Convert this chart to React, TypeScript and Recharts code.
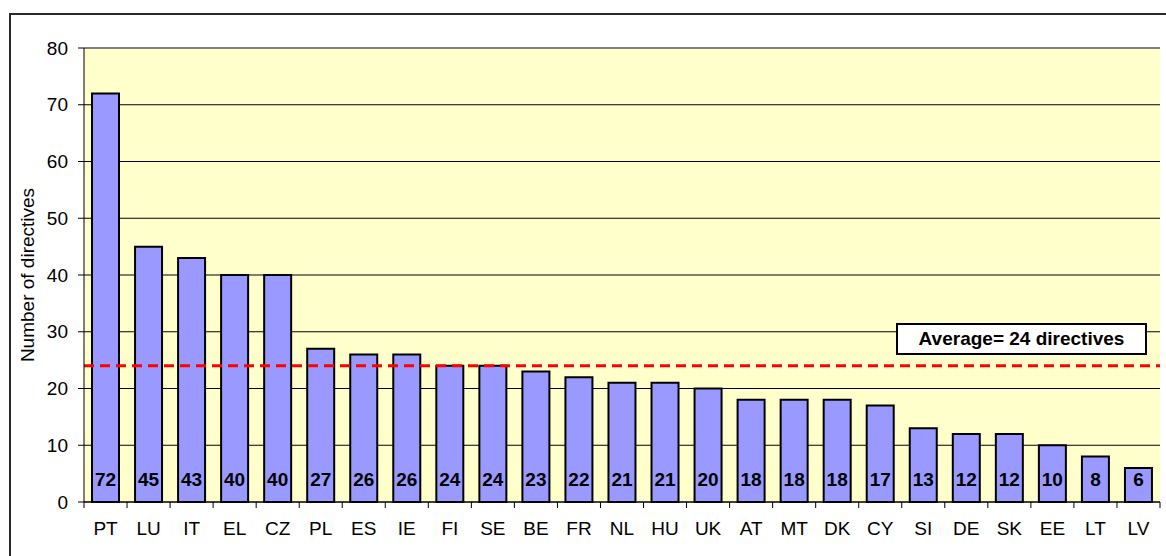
import React from 'react';
import {
  BarChart,
  Bar,
  XAxis,
  YAxis,
  CartesianGrid,
  ReferenceLine,
  LabelList,
  Label,
} from 'recharts';

const countries = ['PT', 'LU', 'IT', 'EL', 'CZ', 'PL', 'ES', 'IE', 'FI', 'SE', 'BE', 'FR', 'NL', 'HU', 'UK', 'AT', 'MT', 'DK', 'CY', 'SI', 'DE', 'SK', 'EE', 'LT', 'LV'];
const directives = [72, 45, 43, 40, 40, 27, 26, 26, 24, 24, 23, 22, 21, 21, 20, 18, 18, 18, 17, 13, 12, 12, 10, 8, 6];
const yTicks = [0, 10, 20, 30, 40, 50, 60, 70, 80];
const averageValue = 24;
const averageLabel = 'Average= 24 directives';
const yAxisTitle = 'Number of directives';

const data = countries.map((c, i) => ({ country: c, value: directives[i] }));

const FONT = 'Arial, "Liberation Sans", sans-serif';
const FS = 19;
const TICK_SIZE = 6;
const TICK_MARGIN = 14;

const XTick = (props: any) => {
  const { x, y, payload, index } = props;
  const half = payload && typeof payload.offset === 'number' && payload.offset > 0 ? payload.offset : 21.52;
  const axisY = y - TICK_SIZE - TICK_MARGIN;
  return (
    <g>
      <line x1={x - half} x2={x - half} y1={axisY} y2={axisY + TICK_SIZE} stroke="#000" strokeWidth={1} />
      {index === countries.length - 1 && (
        <line x1={x + half} x2={x + half} y1={axisY} y2={axisY + TICK_SIZE} stroke="#000" strokeWidth={1} />
      )}
      <text x={x} y={y} dy="0.71em" textAnchor="middle" fontSize={FS} fontFamily={FONT} fill="#000">
        {payload.value}
      </text>
    </g>
  );
};

const YTitle = (props: any) => {
  const vb = props.viewBox || { x: 0, y: 48, width: 84, height: 454 };
  const cx = vb.x + 27;
  const cy = vb.y + vb.height / 2;
  return (
    <text
      x={cx}
      y={cy}
      transform={`rotate(-90 ${cx} ${cy})`}
      textAnchor="middle"
      dominantBaseline="central"
      fontSize={FS}
      fontFamily={FONT}
      fill="#000"
    >
      {yAxisTitle}
    </text>
  );
};

export default function App() {
  return (
    <div
      style={{
        position: 'absolute',
        left: 0,
        top: 0,
        width: 1166,
        height: 556,
        overflow: 'hidden',
        background: '#fff',
      }}
    >
      <div
        style={{
          position: 'absolute',
          left: 9,
          top: 13,
          width: 1200,
          height: 600,
          border: '2px solid #2a2a2a',
        }}
      />
      <div style={{ position: 'absolute', left: 0, top: 0 }}>
        <BarChart
          width={1166}
          height={556}
          data={data}
          margin={{ top: 48, right: 6, bottom: 14, left: 0 }}
          barSize={27}
        >
          <CartesianGrid vertical={false} stroke="#000" strokeWidth={1} fill="#FFFFCC" fillOpacity={1} />
          <XAxis
            dataKey="country"
            height={40}
            interval={0}
            axisLine={{ stroke: '#000', strokeWidth: 1 }}
            tickLine={false}
            tickSize={TICK_SIZE}
            tickMargin={TICK_MARGIN}
            tick={<XTick />}
          />
          <YAxis
            width={84}
            domain={[0, 80]}
            ticks={yTicks}
            interval={0}
            axisLine={{ stroke: '#000', strokeWidth: 1 }}
            tickLine={{ stroke: '#000', strokeWidth: 1 }}
            tickSize={TICK_SIZE}
            tickMargin={10}
            tick={{ fontSize: FS, fontFamily: FONT, fill: '#000' }}
          >
            <Label content={<YTitle />} />
          </YAxis>
          <YAxis
            yAxisId="right"
            orientation="right"
            width={0}
            domain={[0, 80]}
            tick={false}
            tickLine={false}
            axisLine={{ stroke: '#808080', strokeWidth: 2 }}
          />
          <ReferenceLine y={80} stroke="#808080" strokeWidth={2} />
          <Bar dataKey="value" fill="#9999FF" stroke="#000" strokeWidth={2} isAnimationActive={false}>
            <LabelList
              dataKey="value"
              position="insideBottom"
              offset={16}
              fill="#000"
              fontSize={FS}
              fontWeight="bold"
              fontFamily={FONT}
            />
          </Bar>
          <ReferenceLine y={averageValue} stroke="#FF0000" strokeWidth={3} strokeDasharray="10 6" />
        </BarChart>
      </div>
      <div
        style={{
          position: 'absolute',
          left: 896,
          top: 323,
          width: 251,
          height: 32,
          boxSizing: 'border-box',
          border: '2px solid #000',
          background: '#fff',
          display: 'flex',
          alignItems: 'center',
          justifyContent: 'center',
          fontFamily: FONT,
          fontWeight: 'bold',
          fontSize: FS,
          color: '#000',
        }}
      >
        {averageLabel}
      </div>
    </div>
  );
}
